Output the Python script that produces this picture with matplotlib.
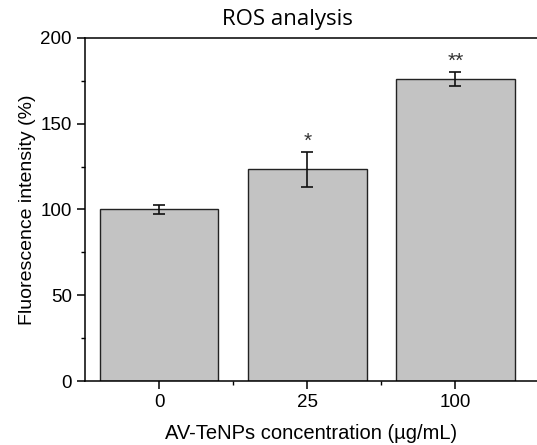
import numpy as np
import matplotlib.pyplot as plt
from matplotlib.ticker import MultipleLocator, FixedLocator

# concentrations and measured fluorescence
labels = ['0', '25', '100']
means = [100, 123.5, 176.3]
errs = [2.5, 10.2, 4.0]
stars = ['', '*', '**']

plt.rcParams['font.family'] = ['Liberation Sans', 'DejaVu Sans']

fig = plt.figure(figsize=(5.37, 4.45), dpi=100)
ax = fig.add_axes([85 / 537, 1 - 381 / 445, (537 - 85) / 537, 343 / 445])

x = np.arange(len(labels))
ax.bar(x, means, width=0.8, color='#c3c3c3', edgecolor='#222222', linewidth=1.0, zorder=2)
ax.errorbar(x, means, yerr=errs, fmt='none', ecolor='#111111', elinewidth=1.2,
            capsize=4, capthick=1.2, zorder=3)
for xi, m, e, s in zip(x, means, errs, stars):
    if s:
        ax.text(xi, m + e + 0.5, s, ha='center', va='bottom', fontsize=15, color='#333333')

ax.set_xlim(-0.5, 2.55)
ax.set_ylim(0, 200)
ax.set_xticks(x)
ax.set_xticklabels(labels)
ax.xaxis.set_minor_locator(FixedLocator([0.5, 1.5]))
ax.yaxis.set_major_locator(MultipleLocator(50))
ax.yaxis.set_minor_locator(MultipleLocator(25))
ax.tick_params(which='major', direction='out', length=6, width=1.1, labelsize=13.5)
ax.tick_params(which='minor', direction='out', length=3, width=1.0)
ax.spines['right'].set_visible(False)
for sp in ['left', 'bottom', 'top']:
    ax.spines[sp].set_linewidth(1.1)

ax.set_xlabel('AV-TeNPs concentration (µg/mL)', fontsize=14.5, labelpad=9)
ax.set_ylabel('Fluorescence intensity (%)', fontsize=14, labelpad=3)

fig.text(287 / 537, 1 - 20 / 445, 'ROS analysis', ha='center', va='center',
         fontsize=16, family='Open Sans')

fig.savefig('out.png', dpi=100)
